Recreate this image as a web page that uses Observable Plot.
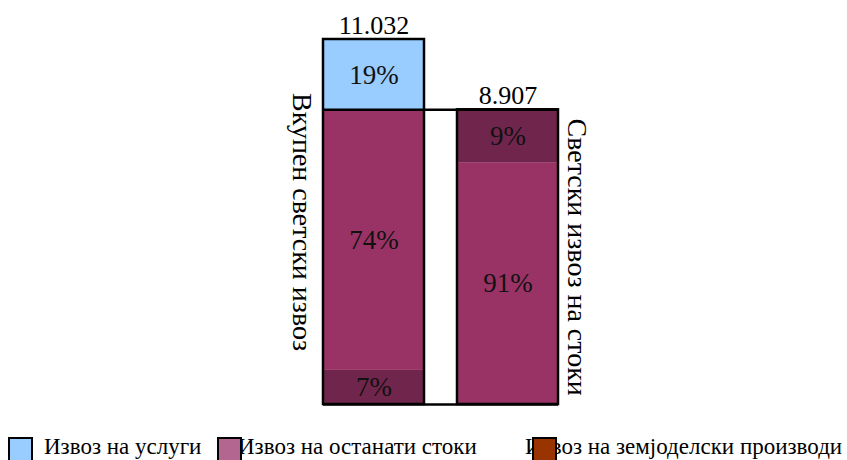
<!DOCTYPE html>
<html>
<head>
<meta charset="utf-8">
<script src="https://cdn.jsdelivr.net/npm/d3@7"></script>
<script src="https://cdn.jsdelivr.net/npm/@observablehq/plot@0.6"></script>
<style>
  html, body { margin: 0; padding: 0; background: #fff; }
  #wrap { position: relative; width: 847px; height: 460px; overflow: hidden; font-family: "Liberation Serif", "DejaVu Serif", serif; }
  #legend { position: absolute; left: 0; top: 437px; width: 847px; height: 30px; }
  .sw { position: absolute; top: 0; width: 21px; height: 24px; border: 2px solid #000; box-sizing: content-box; }
  .lt { position: absolute; top: -3px; font-size: 23px; line-height: 26px; color: #000; white-space: nowrap; }
</style>
</head>
<body>
<div id="wrap">
  <div id="chart"></div>
  <div id="legend"></div>
</div>
<script>
// Bars (categories)
const bars = ["Вкупен светски извоз", "Светски извоз на стоки"];
const totals = [11.032, 8.907];
const totalLabels = ["11.032", "8.907"];
// Segments, bottom to top, as drawn
const segBar   = ["Вкупен светски извоз", "Вкупен светски извоз", "Вкупен светски извоз", "Светски извоз на стоки", "Светски извоз на стоки"];
const segKind  = ["земјоделски", "останати", "услуги", "останати", "земјоделски"];
const segValue = [1.03, 7.85, 2.152, 7.31, 1.597];
const segLabel = ["7%", "74%", "19%", "91%", "9%"];
// Colours of the bar segments
const kinds = ["услуги", "останати", "земјоделски"];
const kindColors = ["#99ccff", "#993366", "#70264c"];
// Legend
const legendNames = ["Извоз на услуги", "Извоз на останати стоки", "Извоз на земјоделски производи"];
const legendColors = ["#99ccff", "#b3668f", "#993300"];

const segs = segValue.map((v, i) => ({bar: segBar[i], kind: segKind[i], value: v, label: segLabel[i]}));
const tots = totals.map((t, i) => ({bar: bars[i], total: t, label: totalLabels[i]}));
const goods = totals[1];

const font = "Liberation Serif";
const chart = Plot.plot({
  width: 847,
  height: 425,
  marginTop: 39,
  marginBottom: 21,
  marginLeft: 322,
  marginRight: 289,
  style: {fontFamily: font, background: "#fff"},
  x: {domain: bars, paddingInner: 0.25, paddingOuter: 0, axis: null},
  y: {domain: [0, totals[0]], axis: null},
  color: {domain: kinds, range: kindColors},
  marks: [
    Plot.barY(segs, {x: "bar", y: "value", fill: "kind", order: null}),
    Plot.text(segs, Plot.stackY({x: "bar", y: "value", text: "label", fontSize: 27, fill: "#111", order: null})),
    Plot.barY(tots, {x: "bar", y: "total", fill: "none", stroke: "#000", strokeWidth: 2.5}),
    Plot.ruleY([0, goods], {x1: () => bars[0], x2: () => bars[1], stroke: "#000", strokeWidth: 2.5}),
    Plot.text(tots, {x: "bar", y: "total", text: "label", fontSize: 26, lineAnchor: "bottom", dy: -6, fill: "#000"}),
    Plot.text([tots[0]], {x: "bar", y: d => d.total / 2, text: "bar", rotate: 90, fontSize: 28, fill: "#000", dx: -72}),
    Plot.text([tots[1]], {x: "bar", y: d => d.total / 2, text: "bar", rotate: 90, fontSize: 28, fill: "#000", dx: 69})
  ]
});
document.getElementById("chart").appendChild(chart);

const leg = document.getElementById("legend");
const swLeft = [8, 217, 532];
const txLeft = [44, 238, 525];
legendNames.forEach((name, i) => {
  const t = document.createElement("div");
  t.className = "lt"; t.style.left = txLeft[i] + "px"; t.textContent = name;
  leg.appendChild(t);
  const s = document.createElement("div");
  s.className = "sw"; s.style.left = swLeft[i] + "px"; s.style.background = legendColors[i];
  leg.appendChild(s);
});
</script>
</body>
</html>
